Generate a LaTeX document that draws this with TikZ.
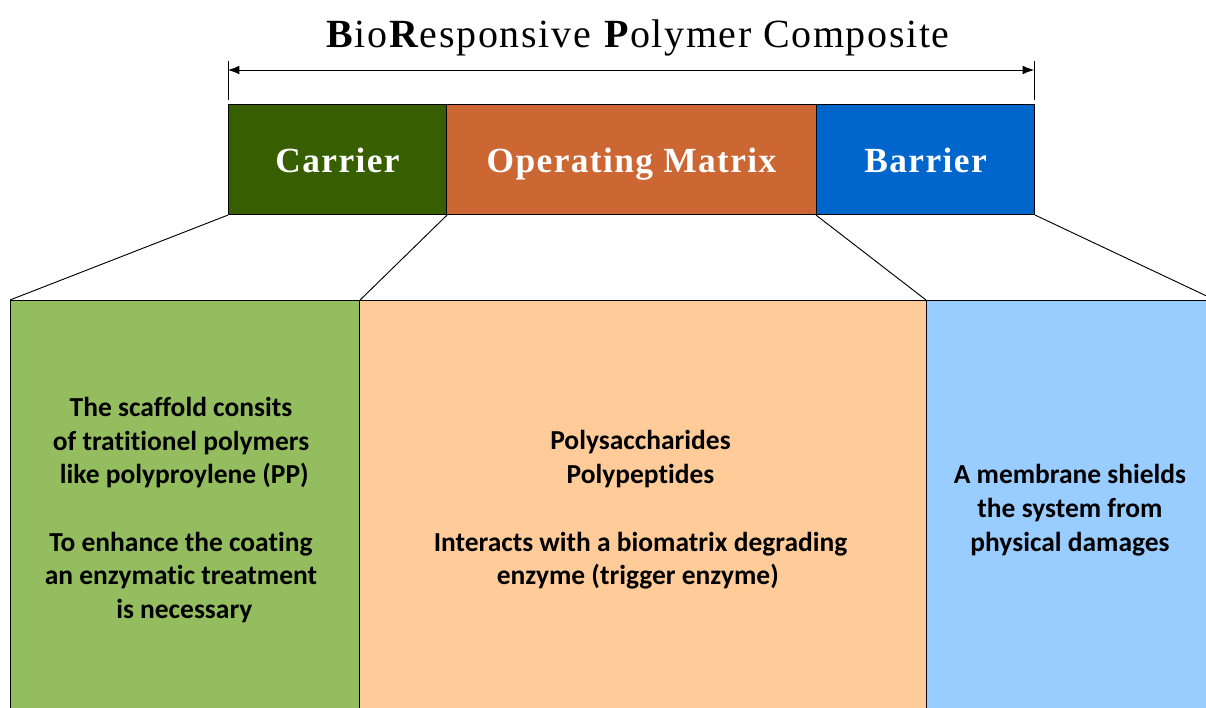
\documentclass[tikz,border=0pt]{standalone}
\usepackage{fontspec}
\setmainfont{Liberation Serif}
\newfontfamily\bodyfont[Ligatures=NoCommon]{Carlito}
\newfontfamily\titlefont[LetterSpace=4.1]{Liberation Serif}
\newfontfamily\headfont[LetterSpace=4]{Liberation Serif}
\usetikzlibrary{arrows.meta}
\definecolor{cardark}{HTML}{375F00}
\definecolor{matdark}{HTML}{CC6633}
\definecolor{bardark}{HTML}{0066CC}
\definecolor{carlight}{HTML}{93BD5E}
\definecolor{matlight}{HTML}{FFCC99}
\definecolor{barlight}{HTML}{99CCFF}
\tikzset{
  headbox/.style={draw=black,line width=0.8pt,anchor=north west,inner sep=0pt,minimum height=82.5pt,text height=19.5pt,text depth=0pt,text=white,font=\headfont\fontsize{26.5}{30}\selectfont\bfseries},
  lowbox/.style={draw=black,line width=0.8pt,anchor=north west,inner sep=0pt,minimum height=312pt},
  bodytext/.style={inner sep=0pt,align=center,text=black,font=\bodyfont\fontsize{20.6}{25.3}\selectfont\bfseries},
  link/.style={draw=black,line width=0.7pt},
  tick/.style={draw=black,line width=0.7pt},
}
\begin{document}
\begin{tikzpicture}[x=0.75pt,y=-0.75pt]
\useasboundingbox (0,0) rectangle (1206,707);
\clip (0,0) rectangle (1206,707);
\node[anchor=base,font=\titlefont\fontsize{30}{34}\selectfont] (title) at (638,47) {\textbf{B}io\textbf{R}esponsive \textbf{P}olymer Composite};
\node[headbox,fill=cardark,minimum width=163.5pt] (car) at (228,104) {Carrier};
\node[headbox,fill=matdark,minimum width=277.5pt] (mat) at (446,104) {Operating Matrix};
\node[headbox,fill=bardark,minimum width=163.5pt] (bar) at (816,104) {Barrier};
\node[lowbox,fill=carlight,minimum width=261.75pt] (lcar) at (10,300) {};
\node[lowbox,fill=matlight,minimum width=425.2pt] (lmat) at (359,300) {};
\node[lowbox,fill=barlight,minimum width=216pt] (lbar) at (926,300) {};
\node[bodytext] (tcar) at (181,510) {The scaffold consits\\of tratitionel polymers\\\hspace*{5pt}like polyproylene (PP)\\[25.3pt]To enhance the coating\\an enzymatic treatment\\\hspace*{5pt}is necessary};
\node[bodytext] (tmat) at (640.5,510) {Polysaccharides\\Polypeptides\\[25.3pt]Interacts with a biomatrix degrading\\enzyme (trigger enzyme)\hspace*{4pt}};
\node[bodytext] (tbar) at (1070,510) {A membrane shields\\the system from\\physical damages};
\path[link] (car.south west) -- (lcar.north west);
\path[link] (car.south east) -- (lcar.north east);
\path[link] (bar.south west) -- (lbar.north west);
\path[link] (bar.south east) -- (lbar.north east);
\coordinate (tl) at (228,61);
\coordinate (tr) at (1034,61);
\coordinate (tlb) at (228,100);
\coordinate (trb) at (1034,100);
\coordinate (al) at (228,70);
\coordinate (ar) at (1034,70);
\path[tick] (tl) -- (tlb);
\path[tick] (tr) -- (trb);
\draw[line width=0.6pt,{Latex[length=8.5pt,width=6.5pt]}-{Latex[length=8.5pt,width=6.5pt]}] (al) -- (ar);
\end{tikzpicture}
\end{document}
